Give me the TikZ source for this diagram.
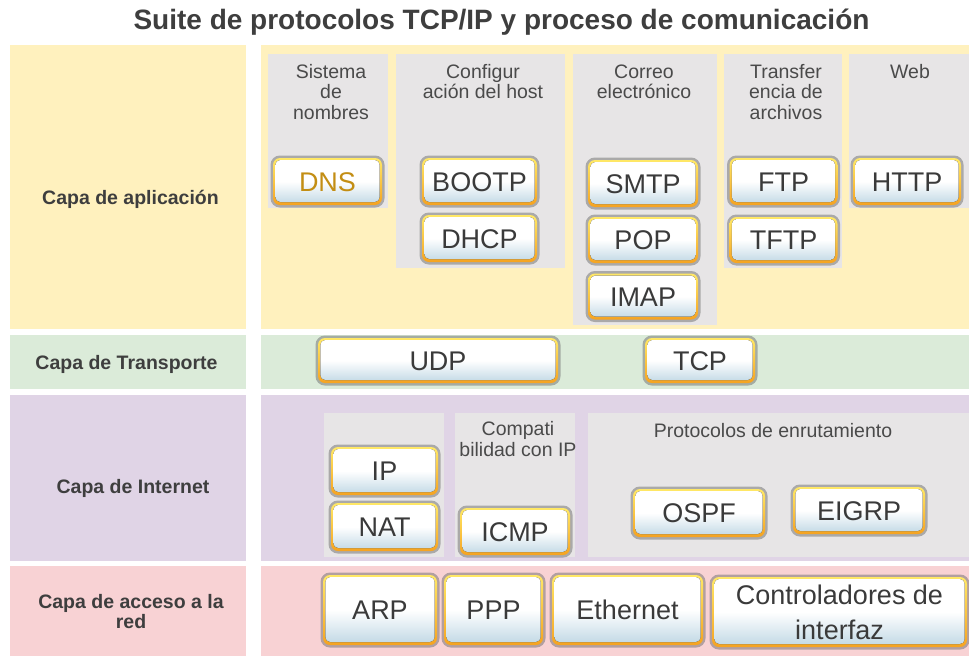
\documentclass[tikz,border=0pt]{standalone}
\usepackage{fontspec}
\setmainfont{Liberation Sans}
\definecolor{appbg}{HTML}{FFF1BE}
\definecolor{trbg}{HTML}{DBEBD9}
\definecolor{inbg}{HTML}{E0D4E6}
\definecolor{acbg}{HTML}{F8D2D4}
\definecolor{grpbg}{HTML}{E7E5E6}
\definecolor{hdrtext}{HTML}{4A4A4A}
\definecolor{lyrtext}{HTML}{3E3E3E}
\definecolor{btntext}{HTML}{3A3A3A}
\definecolor{dnsgold}{HTML}{C38E14}
\definecolor{btnyellow}{HTML}{FFE866}
\definecolor{btnorange}{HTML}{F5A321}
\definecolor{btnshadow}{HTML}{6E6E6E}
\definecolor{btnblue}{HTML}{BFD7E4}
\begin{document}
\begin{tikzpicture}[x=1pt,y=-1pt,
  btnbase/.style={rectangle, rounded corners=7pt, inner sep=0pt, text=btntext,
    font=\fontsize{27}{35}\selectfont, align=center,
    preaction={draw=btnshadow, line width=5pt, draw opacity=0.5},
    preaction={top color=btnyellow, bottom color=btnorange},
    path picture={\fill[rounded corners=5pt, top color=white, bottom color=btnblue, middle color=white]
      ([shift={(2.3pt,-2pt)}]path picture bounding box.north west) rectangle
      ([shift={(-2.3pt,3pt)}]path picture bounding box.south east);}},
  btn/.style={btnbase, text height=19.3pt, text depth=0pt},
  dnsbtn/.style={btn, text=dnsgold},
  sz/.style 2 args={minimum width=#1pt, minimum height=#2pt},
  hdr/.style={font=\fontsize{19.5}{20.5}\selectfont, text=hdrtext, align=center, anchor=base, inner sep=0pt},
  lyr/.style={font=\fontsize{19.5}{20}\selectfont\bfseries, text=lyrtext, align=center, anchor=base, inner sep=0pt},
  ttl/.style={font=\fontsize{28}{30}\selectfont\bfseries, text=lyrtext, anchor=base, inner sep=0pt},
  grp/.style={fill=grpbg}]
\useasboundingbox (0,0) rectangle (969,656);
\fill[white] (0,0) rectangle (969,656);
% title
\node[ttl] (title) at (501.5,29) {Suite de protocolos TCP/IP y proceso de comunicación};
% layer backgrounds
\fill[appbg] (10,45) rectangle (246,329);
\fill[appbg] (261,45) rectangle (969,329);
\fill[trbg] (10,335) rectangle (246,389);
\fill[trbg] (261,335) rectangle (969,389);
\fill[inbg] (10,395) rectangle (246,561);
\fill[inbg] (261,395) rectangle (969,561);
\fill[acbg] (10,566) rectangle (246,656);
\fill[acbg] (261,566) rectangle (969,656);
% layer labels
\node[lyr] (lapp) at (130.5,204) {Capa de aplicación};
\node[lyr] (ltr) at (126.5,369) {Capa de Transporte};
\node[lyr] (lin) at (133,493) {Capa de Internet};
\node[lyr] (lac) at (131,628) {Capa de acceso a la\\red};
% application groups
\fill[grp] (268,54) rectangle (388,208);
\fill[grp] (396,54) rectangle (565,268);
\fill[grp] (573,54) rectangle (717,325);
\fill[grp] (724,54) rectangle (842,268);
\fill[grp] (849,54) rectangle (969,208);
\node[hdr] (hnom) at (331,119) {Sistema\\de\\nombres};
\node[hdr] (hhost) at (483,98.5) {Configur\\ación del host};
\node[hdr] (hmail) at (644,98.5) {Correo\\electrónico};
\node[hdr] (hfile) at (786,119) {Transfer\\encia de\\archivos};
\node[hdr] (hweb) at (910,78) {Web};
% application buttons
\node[dnsbtn, sz={109}{47}] (dns) at (327.5,181.5) {DNS};
\node[btn, sz={115}{47}] (bootp) at (479.5,181.5) {BOOTP};
\node[btn, sz={115}{47}] (dhcp) at (479.5,238.5) {DHCP};
\node[btn, sz={110}{47}] (smtp) at (643,183.5) {SMTP};
\node[btn, sz={110}{46}] (pop) at (643,240) {POP};
\node[btn, sz={110}{46}] (imap) at (643,296.5) {IMAP};
\node[btn, sz={108}{47}] (ftp) at (783.5,181.5) {FTP};
\node[btn, sz={108}{46}] (tftp) at (783.5,240) {TFTP};
\node[btn, sz={108}{47}] (http) at (907,181.5) {HTTP};
% transport
\node[btn, sz={240}{45}] (udp) at (438,360.5) {UDP};
\node[btn, sz={110}{45}] (tcp) at (700,360.5) {TCP};
% internet groups
\fill[grp] (324,413) rectangle (444,557);
\fill[grp] (455,413) rectangle (575,557);
\fill[grp] (588,413) rectangle (969,557);
\node[hdr] (hcomp) at (518,456) {Compati\\bilidad con IP};
\node[hdr] (hrout) at (773,437) {Protocolos de enrutamiento};
\node[btn, sz={107}{48}] (ip) at (384.5,471) {IP};
\node[btn, sz={107}{48}] (nat) at (384.5,527) {NAT};
\node[btn, sz={110}{47}] (icmp) at (515,531.5) {ICMP};
\node[btn, sz={132}{48}] (ospf) at (699,513) {OSPF};
\node[btn, sz={132}{47}] (eigrp) at (859,510.5) {EIGRP};
% network access
\node[btn, sz={114}{70}] (arp) at (380,610) {ARP};
\node[btn, sz={99}{70}] (ppp) at (493.5,610) {PPP};
\node[btn, sz={151}{70}] (eth) at (627.5,610) {Ethernet};
\node[btnbase, sz={255}{70}] (ctrl) at (839.5,612) {Controladores de\\interfaz};
\end{tikzpicture}
\end{document}
